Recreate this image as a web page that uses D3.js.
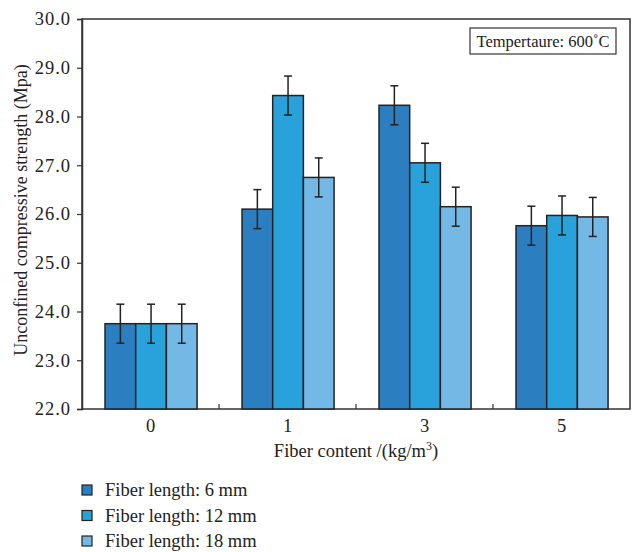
<!DOCTYPE html>
<html>
<head>
<meta charset="utf-8">
<script src="https://cdn.jsdelivr.net/npm/d3@7"></script>
<style>
  body { margin: 0; background: #fff; }
  svg text { font-family: "Liberation Serif", "DejaVu Serif", serif; fill: #222; }
</style>
</head>
<body>
<svg id="chart" width="632" height="552"></svg>
<script>
const categories = ["0", "1", "3", "5"];
const seriesNames = ["Fiber length: 6 mm", "Fiber length: 12 mm", "Fiber length: 18 mm"];
const values6mm  = [23.75, 26.10, 28.23, 25.76];
const values12mm = [23.75, 28.43, 27.05, 25.97];
const values18mm = [23.75, 26.75, 26.15, 25.94];
const errors6mm  = [0.40, 0.40, 0.40, 0.40];
const errors12mm = [0.40, 0.40, 0.40, 0.40];
const errors18mm = [0.40, 0.40, 0.40, 0.40];
const yTicks = [22, 23, 24, 25, 26, 27, 28, 29, 30];
const colors = ["#2b7fc0", "#29a2dc", "#74b9e6"];
const annotation = "Tempertaure: 600˚C";

const seriesValues = [values6mm, values12mm, values18mm];
const seriesErrors = [errors6mm, errors12mm, errors18mm];

const svg = d3.select("#chart");
const m = { left: 82, right: 630, top: 19, bottom: 409 };

const x = d3.scaleBand().domain(categories).range([m.left, m.right]).padding(0);
const xs = d3.scaleBand().domain(d3.range(3))
  .range([x.bandwidth() * 0.168, x.bandwidth() * 0.84]).padding(0);
const y = d3.scaleLinear().domain([22, 30]).range([m.bottom, m.top]);

// frame
svg.append("rect")
  .attr("x", m.left).attr("y", m.top)
  .attr("width", m.right - m.left).attr("height", m.bottom - m.top)
  .attr("fill", "none").attr("stroke", "#333").attr("stroke-width", 1.5);

// bars
const data = [];
categories.forEach((c, i) => {
  seriesValues.forEach((vals, s) => {
    data.push({ c, s, v: vals[i], e: seriesErrors[s][i] });
  });
});

const g = svg.append("g");
g.selectAll("rect.bar").data(data).enter().append("rect")
  .attr("class", "bar")
  .attr("x", d => x(d.c) + xs(d.s))
  .attr("y", d => y(d.v))
  .attr("width", xs.bandwidth())
  .attr("height", d => y(22) - y(d.v))
  .attr("fill", d => colors[d.s])
  .attr("stroke", "#222").attr("stroke-width", 1.5);

// error bars
const eb = g.selectAll("g.err").data(data).enter().append("g").attr("class", "err")
  .attr("stroke", "#222").attr("stroke-width", 1.5);
eb.append("line")
  .attr("x1", d => x(d.c) + xs(d.s) + xs.bandwidth() / 2)
  .attr("x2", d => x(d.c) + xs(d.s) + xs.bandwidth() / 2)
  .attr("y1", d => y(d.v + d.e)).attr("y2", d => y(d.v - d.e));
[1, -1].forEach(sign => {
  eb.append("line")
    .attr("x1", d => x(d.c) + xs(d.s) + xs.bandwidth() / 2 - 4)
    .attr("x2", d => x(d.c) + xs(d.s) + xs.bandwidth() / 2 + 4)
    .attr("y1", d => y(d.v + sign * d.e)).attr("y2", d => y(d.v + sign * d.e));
});

// y axis
const yAxis = svg.append("g").attr("transform", `translate(${m.left},0)`)
  .call(d3.axisLeft(y).tickValues(yTicks).tickFormat(d3.format(".1f")).tickSize(5).tickPadding(6));
yAxis.select(".domain").attr("stroke", "#333").attr("stroke-width", 1.5);
yAxis.selectAll(".tick line").attr("stroke", "#333").attr("stroke-width", 1.2);
yAxis.selectAll(".tick text")
  .style("font-size", "18.5px").style("letter-spacing", "1px")
  .style("font-family", "'Liberation Serif', serif").attr("fill", "#222");

// x axis: inward ticks at band boundaries
const boundaries = categories.slice(1).map(c => x(c));
svg.append("g").selectAll("line").data(boundaries).enter().append("line")
  .attr("x1", d => d).attr("x2", d => d)
  .attr("y1", m.bottom).attr("y2", m.bottom - 5)
  .attr("stroke", "#333").attr("stroke-width", 1.2);
svg.append("g").selectAll("text").data(categories).enter().append("text")
  .attr("x", d => x(d) + x.bandwidth() / 2)
  .attr("y", m.bottom + 23)
  .attr("text-anchor", "middle")
  .style("font-size", "18.5px")
  .text(d => d);

// axis titles
const xt = svg.append("text")
  .attr("x", (m.left + m.right) / 2).attr("y", 457)
  .attr("text-anchor", "middle").style("font-size", "18.5px");
xt.append("tspan").text("Fiber content /(kg/m");
xt.append("tspan").attr("dy", -7).style("font-size", "12px").text("3");
xt.append("tspan").attr("dy", 7).text(")");

svg.append("text")
  .attr("transform", `translate(27,210) rotate(-90)`)
  .attr("text-anchor", "middle").style("font-size", "18px")
  .text("Unconfined compressive strength (Mpa)");

// annotation box
svg.append("rect").attr("x", 470).attr("y", 28).attr("width", 146).attr("height", 26)
  .attr("fill", "#fff").attr("stroke", "#333").attr("stroke-width", 1.2);
svg.append("text").attr("x", 543).attr("y", 47).attr("text-anchor", "middle")
  .style("font-size", "16.5px").text(annotation);

// legend
const lg = svg.append("g").selectAll("g").data(seriesNames).enter().append("g")
  .attr("transform", (d, i) => `translate(82,${490 + i * 25.5})`);
lg.append("rect").attr("x", 0).attr("y", -5).attr("width", 10).attr("height", 10)
  .attr("fill", (d, i) => colors[i]).attr("stroke", "#222").attr("stroke-width", 1.2);
lg.append("text").attr("x", 23).attr("y", 6).style("font-size", "18.5px").text(d => d);
</script>
</body>
</html>
